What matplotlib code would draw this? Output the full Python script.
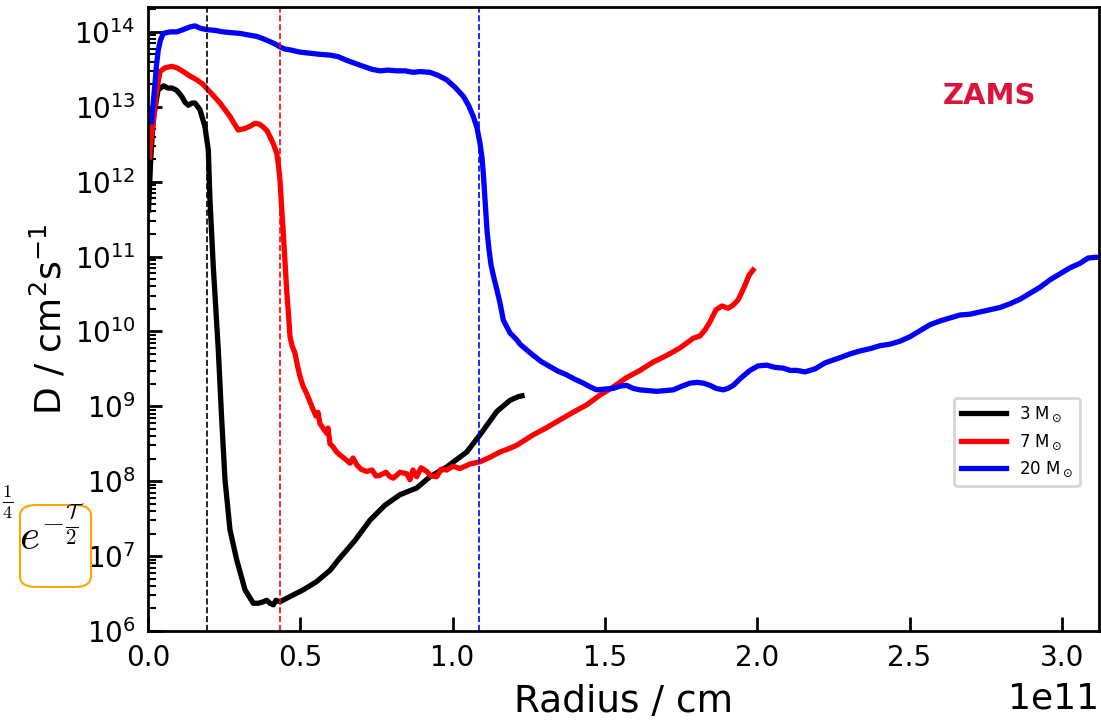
import numpy as np
import matplotlib
matplotlib.use("Agg")
import matplotlib.pyplot as plt
from matplotlib.patches import FancyBboxPatch
from matplotlib.transforms import ScaledTranslation

# radius in units of 1e11 cm, diffusion coefficient as log10(D / cm^2 s^-1)
r_3 = [0.0016, 0.0089, 0.0164, 0.0328, 0.0502, 0.0657, 0.0788, 0.0942, 0.1106, 0.1215,
       0.1323, 0.1445, 0.1543, 0.1707, 0.1871, 0.1980, 0.2035, 0.2144, 0.2308, 0.2420,
       0.2528, 0.2692, 0.2912, 0.3185, 0.3457, 0.3611, 0.3785, 0.3897, 0.4005, 0.4114,
       0.4202, 0.4333, 0.4662, 0.5098, 0.5538, 0.5975, 0.6248, 0.6796, 0.7288, 0.7781,
       0.8273, 0.8822, 0.9258, 0.9806, 1.0463, 1.0900, 1.1448, 1.1884, 1.2157, 1.2278]
logD_3 = [11.62, 12.29, 12.82, 13.22, 13.28, 13.25, 13.25, 13.22, 13.14, 13.06,
          13.02, 13.05, 13.05, 12.96, 12.73, 12.42, 11.75, 10.86, 9.75, 8.82,
          8.02, 7.35, 6.95, 6.55, 6.37, 6.37, 6.39, 6.41, 6.37, 6.35,
          6.41, 6.39, 6.46, 6.55, 6.66, 6.81, 6.95, 7.21, 7.48, 7.68,
          7.82, 7.91, 8.06, 8.19, 8.39, 8.62, 8.93, 9.08, 9.13, 9.14]

r_7 = [0.0049, 0.0098, 0.0174, 0.0263, 0.0394, 0.0558, 0.0778, 0.0952, 0.1159, 0.1379,
       0.1599, 0.1806, 0.1980, 0.2167, 0.2364, 0.2528, 0.2692, 0.2823, 0.2965, 0.3185,
       0.3349, 0.3513, 0.3644, 0.3785, 0.3907, 0.4005, 0.4120, 0.4225, 0.4284, 0.4333,
       0.4382, 0.4442, 0.4498, 0.4553, 0.4613, 0.4662, 0.4728, 0.4826, 0.4908, 0.4990,
       0.5089, 0.5210, 0.5318, 0.5427, 0.5515, 0.5581, 0.5646, 0.5745, 0.5867, 0.5909,
       0.5975, 0.6073, 0.6195, 0.6303, 0.6523, 0.6632, 0.6730, 0.6851, 0.6993, 0.7179,
       0.7353, 0.7485, 0.7617, 0.7814, 0.7945, 0.8053, 0.8273, 0.8493, 0.8601, 0.8700,
       0.8822, 0.8963, 0.9150, 0.9291, 0.9478, 0.9619, 0.9806, 1.0013, 1.0243, 1.0571,
       1.0900, 1.1228, 1.1556, 1.1819, 1.2104, 1.2649, 1.3066, 1.3526, 1.3953, 1.4402,
       1.4839, 1.5276, 1.5693, 1.6152, 1.6579, 1.7029, 1.7466, 1.7902, 1.8122, 1.8286,
       1.8450, 1.8647, 1.8844, 1.9041, 1.9206, 1.9370, 1.9501, 1.9600, 1.9731, 1.9862]
logD_7 = [12.33, 12.56, 12.78, 13.16, 13.47, 13.52, 13.54, 13.52, 13.47, 13.41,
          13.36, 13.30, 13.22, 13.14, 13.05, 12.96, 12.87, 12.78, 12.69, 12.71,
          12.74, 12.78, 12.77, 12.73, 12.68, 12.60, 12.50, 12.38, 12.22, 12.02,
          11.69, 11.31, 10.93, 10.55, 10.22, 9.93, 9.81, 9.71, 9.54, 9.40,
          9.27, 9.17, 9.06, 8.95, 8.87, 8.92, 8.77, 8.71, 8.64, 8.71,
          8.50, 8.46, 8.39, 8.35, 8.28, 8.24, 8.31, 8.22, 8.16, 8.13,
          8.15, 8.07, 8.08, 8.12, 8.06, 8.04, 8.12, 8.10, 8.02, 8.15,
          8.06, 8.18, 8.13, 8.07, 8.06, 8.16, 8.15, 8.20, 8.17, 8.23,
          8.26, 8.32, 8.39, 8.43, 8.48, 8.62, 8.71, 8.82, 8.92, 9.02,
          9.15, 9.26, 9.38, 9.48, 9.59, 9.68, 9.78, 9.91, 9.94, 10.02,
          10.13, 10.29, 10.34, 10.31, 10.35, 10.42, 10.53, 10.62, 10.75, 10.82]

r_20 = [0.0121, 0.0164, 0.0230, 0.0279, 0.0338, 0.0410, 0.0502, 0.0722, 0.0942, 0.1083,
        0.1271, 0.1412, 0.1543, 0.1707, 0.1927, 0.2200, 0.2472, 0.2725, 0.3020, 0.3283,
        0.3569, 0.3775, 0.4005, 0.4169, 0.4333, 0.4498, 0.4662, 0.4990, 0.5427, 0.5647,
        0.5975, 0.6238, 0.6523, 0.6796, 0.7068, 0.7354, 0.7617, 0.7879, 0.8165, 0.8437,
        0.8710, 0.8930, 0.9258, 0.9521, 0.9806, 1.0079, 1.0351, 1.0522, 1.0679, 1.0801,
        1.0900, 1.0965, 1.1008, 1.1064, 1.1129, 1.1195, 1.1261, 1.1359, 1.1458, 1.1556,
        1.1665, 1.1884, 1.2104, 1.2213, 1.2442, 1.2649, 1.2902, 1.3198, 1.3460, 1.3746,
        1.4018, 1.4291, 1.4511, 1.4731, 1.5003, 1.5276, 1.5496, 1.5716, 1.5923, 1.6152,
        1.6415, 1.6700, 1.6973, 1.7246, 1.7531, 1.7794, 1.8023, 1.8230, 1.8450, 1.8647,
        1.8887, 1.9041, 1.9215, 1.9468, 1.9764, 2.0026, 2.0312, 2.0584, 2.0857, 2.1077,
        2.1297, 2.1569, 2.1898, 2.2226, 2.2718, 2.3047, 2.3375, 2.3703, 2.4032, 2.4360,
        2.4688, 2.5016, 2.5345, 2.5673, 2.6001, 2.6330, 2.6658, 2.6986, 2.7314, 2.7643,
        2.7971, 2.8299, 2.8628, 2.8956, 2.9284, 2.9613, 2.9941, 3.0269, 3.0598, 3.0860,
        3.1089, 3.1254]
logD_20 = [12.80, 13.02, 13.31, 13.56, 13.76, 13.89, 13.98, 14.00, 14.00, 14.02,
           14.05, 14.07, 14.08, 14.05, 14.03, 14.02, 14.00, 13.99, 13.98, 13.96,
           13.94, 13.91, 13.87, 13.84, 13.80, 13.77, 13.76, 13.73, 13.71, 13.70,
           13.69, 13.67, 13.62, 13.58, 13.54, 13.50, 13.48, 13.49, 13.48, 13.48,
           13.46, 13.47, 13.46, 13.42, 13.36, 13.26, 13.14, 13.02, 12.87, 12.72,
           12.51, 12.32, 12.11, 11.75, 11.35, 11.09, 10.89, 10.71, 10.55, 10.38,
           10.15, 9.98, 9.89, 9.83, 9.75, 9.68, 9.60, 9.53, 9.47, 9.42,
           9.36, 9.31, 9.26, 9.22, 9.23, 9.24, 9.27, 9.28, 9.24, 9.22,
           9.21, 9.20, 9.21, 9.22, 9.27, 9.31, 9.32, 9.31, 9.28, 9.24,
           9.22, 9.24, 9.28, 9.38, 9.48, 9.54, 9.55, 9.52, 9.51, 9.48,
           9.48, 9.46, 9.50, 9.58, 9.65, 9.70, 9.74, 9.77, 9.81, 9.83,
           9.87, 9.93, 10.01, 10.09, 10.14, 10.18, 10.22, 10.23, 10.26, 10.29,
           10.32, 10.37, 10.43, 10.51, 10.59, 10.69, 10.77, 10.85, 10.91, 10.98,
           10.99, 10.99]

# convective core boundaries (1e11 cm)
r_core = [0.194, 0.433, 1.087]

labels = [r'3 M$_\odot$', r'7 M$_\odot$', r'20 M$_\odot$']
colors = ['black', 'red', 'blue']

fig = plt.figure(figsize=(11.01, 7.2), dpi=100)
ax = fig.add_axes([148/1101, 89/720, 951/1101, 624/720])

for r, logD, c, lab in zip([r_3, r_7, r_20], [logD_3, logD_7, logD_20], colors, labels):
    ax.plot(np.array(r) * 1e11, 10 ** np.array(logD), color=c, lw=3.8, label=lab)

for rc, c in zip(r_core, colors):
    ax.axvline(rc * 1e11, color=c, ls='--', lw=1.2)

ax.set_yscale('log')
ax.set_xlim(0, 3.122e11)
ax.set_ylim(1e6, 2.15e14)

ax.tick_params(which='both', direction='in', top=False, right=False, labelsize=20, pad=9)
ax.tick_params(which='major', length=10, width=2)
ax.tick_params(which='minor', length=6, width=1.5)
for s in ax.spines.values():
    s.set_linewidth(2)

# offset text "1e11": a bit larger and lower than default
off = ax.xaxis.get_offset_text()
off.set_fontsize(26)
off.set_transform(off.get_transform() + ScaledTranslation(0, -4/72, fig.dpi_scale_trans))

ax.set_xlabel('Radius / cm', fontsize=27, labelpad=9)
ax.set_ylabel(r'D / cm$^2$s$^{-1}$', fontsize=26)

leg = ax.legend(loc='upper left', bbox_to_anchor=(954/1101, 1 - 398/720),
                bbox_transform=fig.transFigure, borderaxespad=0, fontsize=12,
                handlelength=2.7)
leg.get_frame().set_linewidth(2)

fig.text(990/1101, 1 - 96/720, 'ZAMS', ha='center', va='center', color='crimson',
         fontsize=21, fontweight='bold')

# stray annotation box at the lower left
box = FancyBboxPatch((20/1101, 1 - 587/720), 71/1101, 82/720,
                     boxstyle='round,pad=0,rounding_size=0.015', transform=fig.transFigure,
                     facecolor='white', edgecolor='orange', lw=1.5)
fig.patches.append(box)
fig.text(52/1101, 1 - 534/720, r'$e^{-\frac{\mathcal{T}}{2}}$', ha='center', va='center',
         fontsize=31, math_fontfamily='cm')
fig.text(8/1101, 1 - 502/720, r'$\frac{1}{4}$', ha='center', va='center',
         fontsize=19, math_fontfamily='cm')

fig.savefig('out.png', dpi=100)
